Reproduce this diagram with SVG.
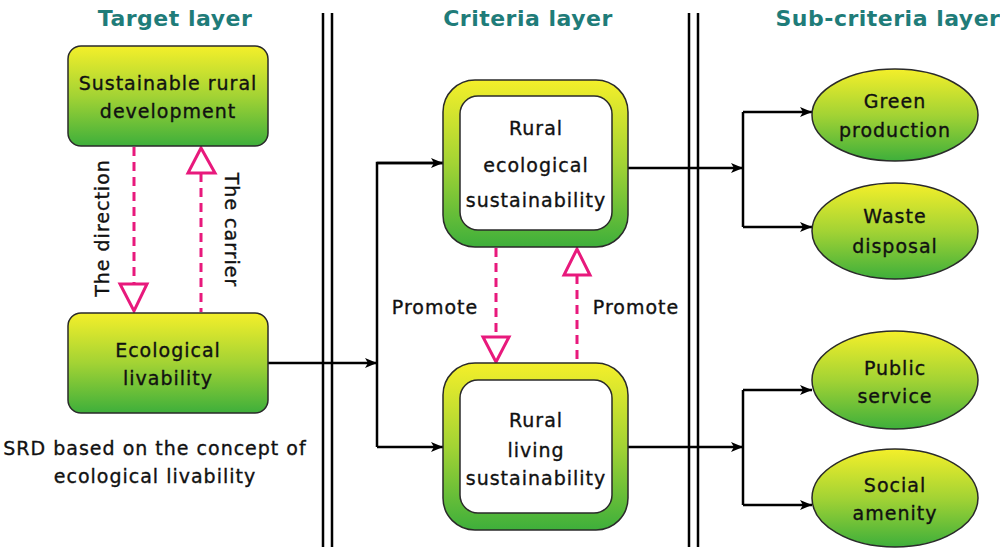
<svg xmlns="http://www.w3.org/2000/svg" width="1000" height="553" viewBox="0 0 1000 553">
<defs>
<linearGradient id="gy" x1="0" y1="0" x2="0" y2="1">
<stop offset="0" stop-color="#f4ef2a"/>
<stop offset="0.5" stop-color="#a3d334"/>
<stop offset="1" stop-color="#3eaf3b"/>
</linearGradient>
<marker id="ah" viewBox="0 0 12 10" refX="12" refY="5" markerWidth="12" markerHeight="10" markerUnits="userSpaceOnUse" orient="auto">
<path d="M0,0 L12,5 L0,10 L3,5 z" fill="#000"/>
</marker>
<style>
.t{font-family:"DejaVu Sans","Liberation Sans",sans-serif;font-size:19px;letter-spacing:1px;fill:#111;stroke:#111;stroke-width:0.35;text-anchor:middle}
.h{font-family:"DejaVu Sans","Liberation Sans",sans-serif;font-size:22px;letter-spacing:0.5px;font-weight:bold;fill:#1f7c79;text-anchor:middle}
.box{fill:url(#gy);stroke:#2a2a2a;stroke-width:1.5}
.inner{fill:#fff;stroke:#2a2a2a;stroke-width:1.5}
.ln{fill:none;stroke:#000;stroke-width:2.5}
.arr{fill:none;stroke:#000;stroke-width:2.5;marker-end:url(#ah)}
.dl{fill:none;stroke:#e8197c;stroke-width:3;stroke-dasharray:9,6}
.tri{fill:#fff;stroke:#e8197c;stroke-width:3}
.sep{stroke:#000;stroke-width:2.5}
</style>
</defs>
<rect width="1000" height="553" fill="#fff"/>

<g id="titles">
<text class="h" x="175" y="26">Target layer</text>
<text class="h" x="528" y="26">Criteria layer</text>
<text class="h" x="888" y="26">Sub-criteria layer</text>
</g>

<g id="separators">
<line class="sep" x1="323" y1="13" x2="323" y2="547"/>
<line class="sep" x1="332" y1="13" x2="332" y2="547"/>
<line class="sep" x1="689" y1="13" x2="689" y2="547"/>
<line class="sep" x1="698" y1="13" x2="698" y2="547"/>
</g>

<g id="connectors">
<line class="arr" x1="268" y1="363" x2="377" y2="363"/>
<polyline class="ln" points="443,163 377,163 377,447"/>
<line class="arr" x1="377" y1="163" x2="443" y2="163"/>
<line class="arr" x1="377" y1="447" x2="443" y2="447"/>
<line class="arr" x1="628" y1="168" x2="743" y2="168"/>
<line class="ln" x1="743" y1="112" x2="743" y2="227"/>
<line class="arr" x1="743" y1="112" x2="812" y2="112"/>
<line class="arr" x1="743" y1="227" x2="812" y2="227"/>
<line class="arr" x1="628" y1="447" x2="743" y2="447"/>
<line class="ln" x1="743" y1="390" x2="743" y2="505"/>
<line class="arr" x1="743" y1="390" x2="812" y2="390"/>
<line class="arr" x1="743" y1="505" x2="812" y2="505"/>
<line class="dl" x1="134" y1="147" x2="134" y2="284"/>
<polygon class="tri" points="120,284 147,284 134,311"/>
<line class="dl" x1="201" y1="173" x2="201" y2="312"/>
<polygon class="tri" points="188,173 215,173 201,148"/>
<line class="dl" x1="496" y1="248" x2="496" y2="337"/>
<polygon class="tri" points="483,337 509,337 496,362"/>
<line class="dl" x1="577" y1="275" x2="577" y2="362"/>
<polygon class="tri" points="564,275 590,275 577,249"/>
<text class="t" transform="translate(109,228) rotate(-90)">The direction</text>
<text class="t" transform="translate(225,230) rotate(90)">The carrier</text>
<text class="t" x="435" y="314">Promote</text>
<text class="t" x="636" y="314">Promote</text>
</g>

<g id="target">
<rect class="box" x="68" y="46" width="200" height="100" rx="13"/>
<text class="t" x="168" y="90">Sustainable rural</text>
<text class="t" x="168" y="118">development</text>
</g>

<g id="eco-livability">
<rect class="box" x="68" y="313" width="200" height="100" rx="13"/>
<text class="t" x="168" y="357">Ecological</text>
<text class="t" x="168" y="385">livability</text>
</g>

<g id="srd-note">
<text class="t" x="155" y="455">SRD based on the concept of</text>
<text class="t" x="155" y="483">ecological livability</text>
</g>

<g id="rural-ecological">
<rect class="box" x="443" y="80" width="185" height="167" rx="32"/>
<rect class="inner" x="460" y="96" width="152" height="134" rx="18"/>
<text class="t" x="536" y="135">Rural</text>
<text class="t" x="536" y="172">ecological</text>
<text class="t" x="536" y="207">sustainability</text>
</g>

<g id="rural-living">
<rect class="box" x="443" y="363" width="185" height="167" rx="32"/>
<rect class="inner" x="460" y="380" width="152" height="133" rx="18"/>
<text class="t" x="536" y="427">Rural</text>
<text class="t" x="536" y="457">living</text>
<text class="t" x="536" y="485">sustainability</text>
</g>

<g id="green-production">
<ellipse class="box" cx="895" cy="115" rx="83" ry="46"/>
<text class="t" x="895" y="108">Green</text>
<text class="t" x="895" y="137">production</text>
</g>

<g id="waste-disposal">
<ellipse class="box" cx="895" cy="231" rx="83" ry="48"/>
<text class="t" x="895" y="223">Waste</text>
<text class="t" x="895" y="253">disposal</text>
</g>

<g id="public-service">
<ellipse class="box" cx="895" cy="380" rx="83" ry="49"/>
<text class="t" x="895" y="375">Public</text>
<text class="t" x="895" y="403">service</text>
</g>

<g id="social-amenity">
<ellipse class="box" cx="895" cy="498" rx="83" ry="49"/>
<text class="t" x="895" y="492">Social</text>
<text class="t" x="895" y="520">amenity</text>
</g>
</svg>
